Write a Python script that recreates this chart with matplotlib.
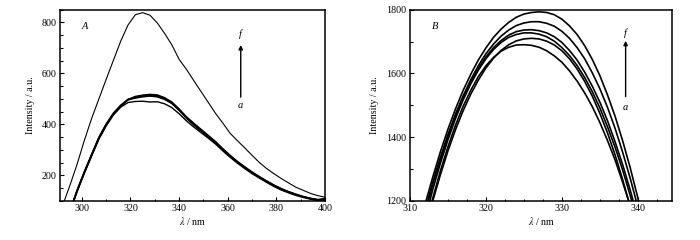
import matplotlib
matplotlib.use("Agg")
import matplotlib.pyplot as plt
from matplotlib.ticker import MultipleLocator

plt.rcParams['font.family'] = ['Liberation Serif', 'DejaVu Serif']
plt.rcParams['mathtext.fontset'] = 'stix'
plt.rcParams['font.size'] = 7.2

# ---- panel A : emission spectra, 292-400 nm ----
wl_a = [292, 295, 298, 301, 304, 307, 310, 313, 316, 319, 322, 325, 328, 331, 334, 337,
        340, 343, 346, 349, 352, 355, 358, 361, 364, 367, 370, 373, 376, 379, 382, 385,
        388, 391, 394, 397, 400]
a_f = [80, 159, 243, 337, 423, 500, 577, 652, 727, 790, 830, 838, 828, 798, 757, 712,
       655, 616, 572, 529, 486, 443, 405, 365, 336, 308, 279, 251, 227, 207, 188, 171,
       154, 142, 130, 121, 115]
a_e = [-20, 60, 142, 215, 283, 350, 402, 445, 476, 498, 510, 515, 518, 516, 505, 488,
       461, 430, 405, 381, 357, 333, 305, 279, 255, 234, 214, 196, 179, 163, 149, 137,
       127, 118, 111, 106, 108]
a_d = [-22, 58, 140, 213, 281, 348, 400, 443, 474, 497, 507, 512, 515, 513, 503, 486,
       459, 428, 403, 379, 355, 331, 303, 277, 253, 232, 212, 194, 177, 161, 147, 136,
       126, 117, 110, 104, 107]
a_c = [-24, 56, 138, 211, 279, 346, 398, 442, 473, 499, 505, 511, 512, 511, 500, 483,
       456, 426, 400, 377, 353, 329, 301, 276, 252, 231, 211, 193, 176, 160, 146, 135,
       125, 116, 109, 105, 109]
a_b = [-23, 57, 139, 212, 280, 347, 399, 441, 472, 496, 503, 508, 511, 508, 498, 482,
       455, 424, 398, 374, 351, 327, 299, 274, 251, 230, 210, 192, 175, 159, 145, 134,
       124, 116, 109, 104, 106]
a_a = [-26, 54, 135, 208, 276, 342, 394, 437, 468, 486, 490, 491, 488, 489, 481, 466,
       442, 414, 390, 368, 346, 323, 296, 271, 248, 227, 207, 190, 173, 157, 143, 132,
       122, 114, 107, 102, 104]

# ---- panel B : synchronous spectra, 311-341 nm ----
wl_b = [311, 312, 313, 314, 315, 316, 317, 318, 319, 320, 321, 322, 323, 324, 325, 326,
        327, 328, 329, 330, 331, 332, 333, 334, 335, 336, 337, 338, 339, 340, 341]
b_f = [1100, 1191, 1275, 1354, 1425, 1489, 1547, 1597, 1642, 1680, 1713, 1739, 1760, 1776,
       1786, 1791, 1793, 1791, 1784, 1770, 1749, 1722, 1687, 1644, 1593, 1533, 1466, 1389,
       1304, 1210, 1107]
b_e = [1080, 1173, 1259, 1337, 1408, 1473, 1530, 1580, 1624, 1662, 1692, 1717, 1736, 1750,
       1758, 1762, 1762, 1757, 1748, 1732, 1710, 1681, 1646, 1602, 1552, 1494, 1428, 1353,
       1271, 1181, 1083]
b_d = [1070, 1164, 1252, 1330, 1403, 1467, 1524, 1573, 1616, 1652, 1681, 1703, 1720, 1731,
       1736, 1737, 1734, 1727, 1715, 1697, 1672, 1642, 1604, 1560, 1510, 1452, 1386, 1314,
       1234, 1147, 1051]
b_c = [1046, 1144, 1236, 1318, 1392, 1459, 1517, 1567, 1610, 1646, 1675, 1697, 1713, 1722,
       1727, 1727, 1723, 1715, 1701, 1681, 1656, 1625, 1587, 1543, 1492, 1433, 1369, 1297,
       1217, 1130, 1035]
b_b = [1011, 1110, 1200, 1282, 1357, 1424, 1483, 1535, 1579, 1617, 1648, 1672, 1690, 1702,
       1708, 1710, 1708, 1701, 1689, 1671, 1646, 1614, 1575, 1529, 1475, 1414, 1345, 1267,
       1182, 1088, 990]
b_a = [1010, 1114, 1209, 1294, 1370, 1438, 1497, 1547, 1590, 1624, 1650, 1670, 1682, 1689,
       1690, 1688, 1682, 1671, 1655, 1635, 1608, 1576, 1539, 1496, 1446, 1390, 1329, 1259,
       1185, 1102, 1010]

fig = plt.figure(figsize=(7, 2.4), dpi=100)
axA = fig.add_axes([0.0857, 0.1625, 0.3786, 0.7975])
axB = fig.add_axes([0.5857, 0.1625, 0.3743, 0.7975])

axA.plot(wl_a, a_f, color='black', lw=0.8)
for s in (a_a, a_b, a_c, a_d, a_e):
    axA.plot(wl_a, s, color='black', lw=1.0)
axA.set_xlim(291, 400)
axA.set_ylim(100, 850)
axA.xaxis.set_major_locator(MultipleLocator(20))
axA.xaxis.set_minor_locator(MultipleLocator(10))
axA.yaxis.set_major_locator(MultipleLocator(200))
axA.yaxis.set_minor_locator(MultipleLocator(50))

for s in (b_a, b_b, b_c, b_d, b_e, b_f):
    axB.plot(wl_b, s, color='black', lw=1.2)
axB.set_xlim(310, 344.5)
axB.set_ylim(1200, 1800)
axB.xaxis.set_major_locator(MultipleLocator(10))
axB.xaxis.set_minor_locator(MultipleLocator(2.5))
axB.yaxis.set_major_locator(MultipleLocator(200))
axB.yaxis.set_minor_locator(MultipleLocator(100))

for ax, letter, ax_x, ay in ((axA, 'A', 0.682, (0.543, 0.815, 0.872, 0.501)),
                              (axB, 'B', 0.823, (0.545, 0.837, 0.877, 0.491))):
    for sp in ax.spines.values():
        sp.set_linewidth(1.1)
    ax.tick_params(which='both', direction='in', top=False, right=False, width=0.8)
    ax.tick_params(which='major', length=3, pad=2.5)
    ax.tick_params(which='minor', length=1.8)
    ax.set_xlabel(r'$\lambda$ / nm', labelpad=1)
    ax.set_ylabel('Intensity / a.u.', labelpad=5)
    ax.text(0.095, 0.91, letter, transform=ax.transAxes, style='italic',
            ha='center', va='center', fontsize=7.5)
    ax.annotate('', xy=(ax_x, ay[1]), xytext=(ax_x, ay[0]), xycoords='axes fraction',
                arrowprops=dict(arrowstyle='-|>', color='black', lw=1.0,
                                mutation_scale=6, shrinkA=0, shrinkB=0))
    ax.text(ax_x, ay[2], 'f', transform=ax.transAxes, style='italic',
            ha='center', va='center', fontsize=7.5)
    ax.text(ax_x, ay[3], 'a', transform=ax.transAxes, style='italic',
            ha='center', va='center', fontsize=7.5)

fig.savefig('out.png', dpi=100)
